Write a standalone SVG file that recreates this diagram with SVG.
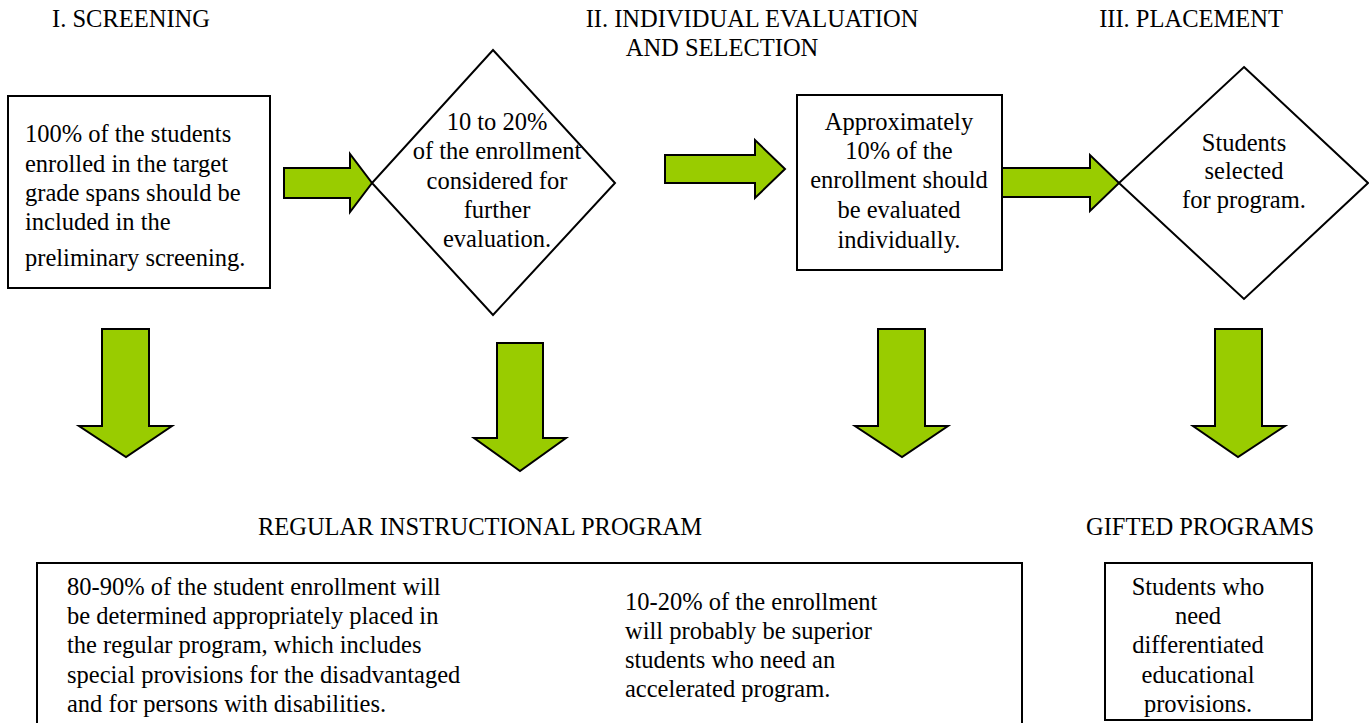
<svg xmlns="http://www.w3.org/2000/svg" width="1369" height="723" viewBox="0 0 1369 723">
<style>
text{font-family:"Liberation Serif","Times New Roman",serif;font-size:24.5px;fill:#000}
.c{text-anchor:middle}
.box{fill:#fff;stroke:#000;stroke-width:2}
.arr{fill:#99CC00;stroke:#000;stroke-width:2;stroke-linejoin:miter}
</style>
<rect width="1369" height="723" fill="#fff"/>
<g id="headers">
<text x="131" y="27" class="c">I. SCREENING</text>
<text x="752" y="27" class="c">II. INDIVIDUAL EVALUATION</text>
<text x="722" y="56" class="c">AND SELECTION</text>
<text x="1191" y="27" class="c">III. PLACEMENT</text>
<text x="480" y="535" class="c">REGULAR INSTRUCTIONAL PROGRAM</text>
<text x="1200" y="535" class="c">GIFTED PROGRAMS</text>
</g>
<g id="connectors">
<path class="arr" d="M284,168 H350 V154 L372,183 L350,212 V198 H284 Z"/>
<path class="arr" d="M665,155 H755 V140 L785,169 L755,198 V183 H665 Z"/>
<path class="arr" d="M1002,168 H1090 V155 L1119,183 L1090,211 V197 H1002 Z"/>
<path class="arr" d="M102,329 H149 V426 H172 L126,457 L79,426 H102 Z"/>
<path class="arr" d="M497,343 H543 V438 H566 L520,471 L474,438 H497 Z"/>
<path class="arr" d="M878,329 H925 V426 H948 L902,457 L855,426 H878 Z"/>
<path class="arr" d="M1215,329 H1262 V426 H1285 L1238,457 L1193,426 H1215 Z"/>
</g>
<g id="screening">
<rect class="box" x="8" y="96" width="262" height="192"/>
<text x="25" y="142">100% of the students</text>
<text x="25" y="172">enrolled in the target</text>
<text x="25" y="201">grade spans should be</text>
<text x="25" y="230">included in the</text>
<text x="25" y="266">preliminary screening.</text>
</g>
<g id="diamond1">
<path class="box" d="M493,50 L615,183 L493,315 L372,183 Z"/>
<text x="497" y="130" class="c">10 to 20%</text>
<text x="497" y="159" class="c">of the enrollment</text>
<text x="497" y="189" class="c">considered for</text>
<text x="497" y="218" class="c">further</text>
<text x="497" y="247" class="c">evaluation.</text>
</g>
<g id="evaluation">
<rect class="box" x="797" y="95" width="205" height="175"/>
<text x="899" y="130" class="c">Approximately</text>
<text x="899" y="159" class="c">10% of the</text>
<text x="899" y="188" class="c">enrollment should</text>
<text x="899" y="218" class="c">be evaluated</text>
<text x="899" y="248" class="c">individually.</text>
</g>
<g id="diamond2">
<path class="box" d="M1244,67 L1368,183 L1244,299 L1119,183 Z"/>
<text x="1244" y="151" class="c">Students</text>
<text x="1244" y="179" class="c">selected</text>
<text x="1244" y="208" class="c">for program.</text>
</g>
<g id="regular">
<rect class="box" x="37" y="563" width="985" height="170"/>
<text x="67" y="595">80-90% of the student enrollment will</text>
<text x="67" y="624">be determined appropriately placed in</text>
<text x="67" y="653">the regular program, which includes</text>
<text x="67" y="683">special provisions for the disadvantaged</text>
<text x="67" y="712">and for persons with disabilities.</text>
<text x="625" y="610">10-20% of the enrollment</text>
<text x="625" y="639">will probably be superior</text>
<text x="625" y="668">students who need an</text>
<text x="625" y="697">accelerated program.</text>
</g>
<g id="gifted">
<rect class="box" x="1105" y="563" width="207" height="157"/>
<text x="1198" y="595" class="c">Students who</text>
<text x="1198" y="624" class="c">need</text>
<text x="1198" y="653" class="c">differentiated</text>
<text x="1198" y="683" class="c">educational</text>
<text x="1198" y="712" class="c">provisions.</text>
</g>
</svg>
